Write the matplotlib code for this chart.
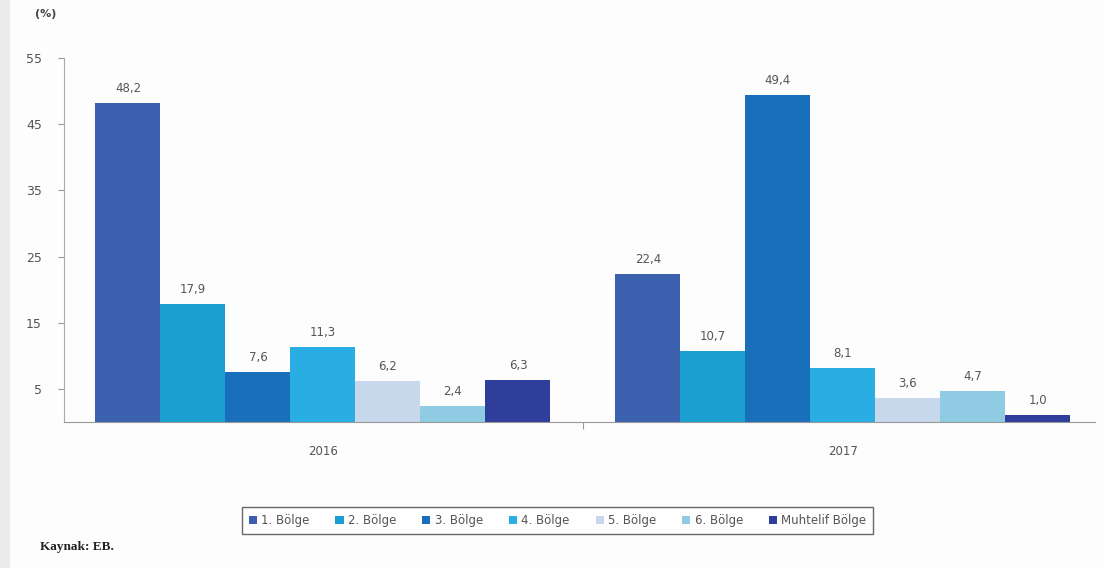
import matplotlib.pyplot as plt
from matplotlib.patches import Rectangle
import numpy as np

years = ['2016', '2017']
regions = ['1. Bölge', '2. Bölge', '3. Bölge', '4. Bölge', '5. Bölge', '6. Bölge', 'Muhtelif Bölge']
values_2016 = [48.2, 17.9, 7.6, 11.3, 6.2, 2.4, 6.3]
values_2017 = [22.4, 10.7, 49.4, 8.1, 3.6, 4.7, 1.0]
colors = ['#3b60ae', '#1a9fd0', '#1a6fba', '#2aade3', '#c8d8ec', '#8fcbe3', '#2e3e9a']
yticks = [5, 15, 25, 35, 45, 55]

fig = plt.figure(figsize=(11.04, 5.68), dpi=100, facecolor='#fdfdfd')
# light grey strip on the left edge
fig.patches.append(Rectangle((0, 0), 0.008, 1, transform=fig.transFigure,
                             color='#ececec', zorder=0))
ax = fig.add_axes([0.058, 0.257, 0.934, 0.641])
ax.set_facecolor('#fdfdfd')

x = np.arange(len(years))
width = 0.125
for i, reg in enumerate(regions):
    vals = [values_2016[i], values_2017[i]]
    pos = x + (i - 3) * width
    ax.bar(pos, vals, width, color=colors[i], label=reg)
    for p, v in zip(pos, vals):
        ax.text(p, v + 1.2, ('%.1f' % v).replace('.', ','), ha='center', va='bottom',
                fontsize=8.5, color='#555555')

ax.set_xlim(-0.498, 1.485)
ax.set_ylim(0, 55)
ax.set_yticks(yticks)
ax.set_yticklabels([str(t) for t in yticks], fontsize=9, color='#555555')
ax.set_xticks([0.5])
ax.set_xticklabels([''])
ax.tick_params(axis='x', length=5, color='#999999')
ax.tick_params(axis='y', length=4, color='#999999', pad=12)
for t, lab in zip(x, years):
    ax.text(t, -3.5, lab, ha='center', va='top', fontsize=8.5, color='#555555')

for s in ['top', 'right']:
    ax.spines[s].set_visible(False)
ax.spines['left'].set_color('#aaaaaa')
ax.spines['bottom'].set_color('#999999')

leg = fig.legend(loc='center', bbox_to_anchor=(0.505, 0.084), ncol=7, fontsize=8.5,
                 frameon=True, fancybox=False, edgecolor='#444444', handlelength=0.7,
                 handleheight=0.7, handletextpad=0.35, columnspacing=2.2, borderpad=0.6)
for t in leg.get_texts():
    t.set_color('#555555')

fig.text(0.032, 0.975, '(%)', fontsize=8, fontweight='bold', color='#444444', va='center')
fig.text(0.036, 0.037, 'Kaynak: EB.', fontsize=9.5, fontweight='bold', family='Liberation Serif',
         color='#222222', va='center')

fig.savefig('out.png', dpi=100, facecolor=fig.get_facecolor())
